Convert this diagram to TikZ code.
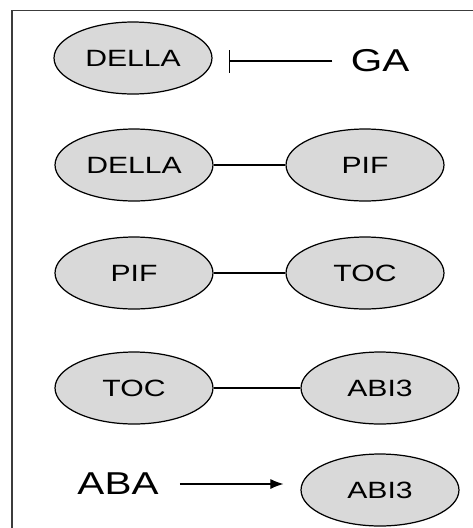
\documentclass[tikz,border=0pt]{standalone}
\usepackage{fontspec}
\usepackage{xcolor}
\usetikzlibrary{arrows.meta, shapes.geometric}
\newfontfamily\genefont[FakeStretch=1.28]{Liberation Sans}
\definecolor{genegray}{RGB}{217, 217, 217}
\definecolor{framegray}{RGB}{60, 60, 60}
\tikzset{
  gene/.style={ellipse, draw=black, line width=0.7pt, fill=genegray, minimum width=3.16cm, minimum height=1.44cm, inner sep=0pt, font=\genefont\fontsize{13.4}{16}\selectfont},
  hormone/.style={inner sep=0pt, font=\genefont\fontsize{18}{21}\selectfont},
  link/.style={draw=black, line width=0.6pt}
}

\begin{document}
\begin{tikzpicture}[x=0.02cm, y=-0.02cm]
\useasboundingbox (0,0) rectangle (473,528);
\draw[framegray, line width=1.1pt] (12,528) -- (12,10.5) -- (473,10.5);

\node[gene] (della1) at (133,58) {DELLA};
\node[hormone] (ga) at (380,61) {GA};
\draw[link, -{Bar[width=0.46cm]}, shorten <=0.36cm, shorten >=0.32cm] (ga.west) -- (ga.west -| della1.east);

\node[gene] (della2) at (134,165) {DELLA};
\node[gene] (pif2) at (365,165) {PIF};
\draw[link] (della2) -- (pif2);

\node[gene] (pif3) at (134,273) {PIF};
\node[gene] (toc3) at (365,273) {TOC};
\draw[link] (pif3) -- (toc3);

\node[gene] (toc4) at (134,388) {TOC};
\node[gene] (abi4) at (380,388) {ABI3};
\draw[link] (toc4) -- (abi4);

\node[hormone] (aba) at (118,484) {ABA};
\node[gene] (abi5) at (380,490) {ABI3};
\draw[link, -{Latex[length=0.26cm, width=0.2cm]}, shorten <=0.42cm, shorten >=0.34cm] (aba.east) -- (aba.east -| abi5.west);
\end{tikzpicture}
\end{document}
